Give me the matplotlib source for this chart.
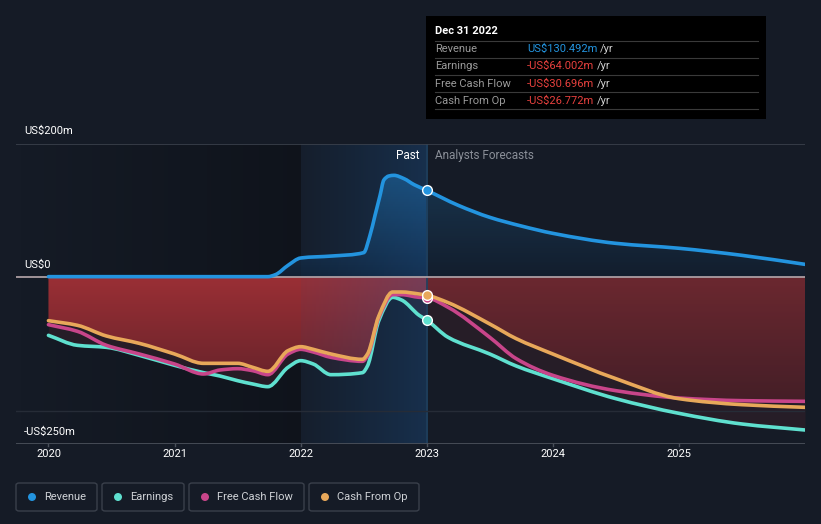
import numpy as np
import matplotlib
matplotlib.use("Agg")
import matplotlib.pyplot as plt
from matplotlib.patches import FancyBboxPatch, Rectangle, PathPatch, Ellipse
from matplotlib.path import Path
from matplotlib.colors import LinearSegmentedColormap

# ---------------- data ----------------
rev_years = [2020.0, 2021.0, 2021.74, 2021.8, 2021.9, 2022.0, 2022.25, 2022.5, 2022.55,
             2022.59, 2022.63, 2022.66, 2022.7, 2022.74, 2022.82, 2022.9, 2023.0,
             2023.25, 2023.5, 2023.75, 2024.0, 2024.5, 2025.0, 2025.5, 2026.0]
revenue = [1, 1, 1, 4, 18, 29, 32, 37, 63, 93, 123, 146, 152, 153, 148, 139, 130.5,
           108, 90, 77, 66, 51, 43.6, 33, 19.5]

neg_years = [2020.0, 2020.23, 2020.46, 2020.72, 2021.0, 2021.23, 2021.36, 2021.5, 2021.62,
             2021.74, 2021.9, 2022.0, 2022.1, 2022.24, 2022.49, 2022.53, 2022.62, 2022.73,
             2022.8, 2022.94, 2023.0, 2023.17, 2023.5, 2023.71, 2024.0, 2024.5, 2025.0,
             2025.5, 2026.0]
earnings = [-87, -102, -105, -117, -132, -143, -148, -155, -160, -164, -135, -125, -130,
            -146, -143, -133, -65, -30, -34, -57, -64, -90, -115, -133, -152, -182, -204,
            -220, -229]
fcf = [-71, -81, -102, -115, -130, -145, -139, -137, -140, -146, -115, -108, -112, -120,
       -126, -118, -60, -26, -26, -30, -30.7, -45, -90, -122, -147, -170, -181, -185, -186]
cfo = [-65, -72, -88, -99, -115, -129, -129, -129, -135, -141, -110, -104, -108, -115,
       -123, -115, -58, -22, -22, -25, -26.8, -38, -70, -92, -115, -152, -182, -191, -195]

tick_years = [2020, 2021, 2022, 2023, 2024, 2025]
now_year = 2023.0
past_start = 2022.0

series_names = ["Revenue", "Earnings", "Free Cash Flow", "Cash From Op"]
series_colors = ["#2394df", "#5fe0cf", "#c8458a", "#e8a85a"]
tip_values = ["US$130.492m", "-US$64.002m", "-US$30.696m", "-US$26.772m"]
tip_colors = ["#2394df", "#e8413e", "#e8413e", "#e8413e"]

BG = "#151b26"
W, H = 821, 524


def mono_slopes(x, y):
    x = np.asarray(x, float); y = np.asarray(y, float)
    h = np.diff(x); d = np.diff(y) / h
    m = np.zeros_like(y)
    m[0] = d[0]; m[-1] = d[-1]
    for i in range(1, len(y) - 1):
        if d[i - 1] * d[i] <= 0:
            m[i] = 0
        else:
            w1 = 2 * h[i] + h[i - 1]; w2 = h[i] + 2 * h[i - 1]
            m[i] = (w1 + w2) / (w1 / d[i - 1] + w2 / d[i])
    return m


def curve_path(x, y):
    """Monotone cubic Bezier path through the data points (smooth rendering)."""
    x = np.asarray(x, float); y = np.asarray(y, float)
    m = mono_slopes(x, y)
    verts = [(x[0], y[0])]; codes = [Path.MOVETO]
    for i in range(len(x) - 1):
        h = x[i + 1] - x[i]
        verts += [(x[i] + h / 3, y[i] + m[i] * h / 3),
                  (x[i + 1] - h / 3, y[i + 1] - m[i + 1] * h / 3),
                  (x[i + 1], y[i + 1])]
        codes += [Path.CURVE4] * 3
    return verts, codes


def dense_curve(x, y, xs):
    """Evaluate the same smooth curve for rendering of filled areas."""
    x = np.asarray(x, float); y = np.asarray(y, float)
    m = mono_slopes(x, y)
    idx = np.clip(np.searchsorted(x, xs) - 1, 0, len(x) - 2)
    h = x[idx + 1] - x[idx]
    t = (xs - x[idx]) / h
    h00 = 2 * t**3 - 3 * t**2 + 1; h10 = t**3 - 2 * t**2 + t
    h01 = -2 * t**3 + 3 * t**2; h11 = t**3 - t**2
    return h00 * y[idx] + h10 * h * m[idx] + h01 * y[idx + 1] + h11 * h * m[idx + 1]


fig = plt.figure(figsize=(W / 100, H / 100), dpi=100, facecolor=BG)
x0, x1 = 16, 805
ytop, ybot = 144, 444
ax = fig.add_axes([x0 / W, 1 - ybot / H, (x1 - x0) / W, (ybot - ytop) / H])
ax.set_facecolor(BG)
xmin = 2020 - (48.5 - x0) / 126.3
xmax = 2026.0
ax.set_xlim(xmin, xmax)
ax.set_ylim(-250, 200)
for s in ax.spines.values():
    s.set_visible(False)
ax.set_xticks([])
ax.set_yticks([])

# left darkening gradient
grad = np.linspace(0, 1, 256).reshape(1, -1)
dark_cmap = LinearSegmentedColormap.from_list("d", [(0, 0, 0, 0.0), (0, 0, 0, 0.28)])
ax.imshow(grad, extent=[xmin, past_start, -250, 200], aspect="auto", cmap=dark_cmap,
          zorder=0.5, interpolation="bicubic")

xs = np.linspace(2020, 2026, 1200)
Es = dense_curve(neg_years, earnings, xs)
Fs = dense_curve(neg_years, fcf, xs)
Cs = dense_curve(neg_years, cfo, xs)
upper = np.maximum(np.maximum(Es, Fs), Cs)
lower = np.minimum(np.minimum(Es, Fs), Cs)

# red gradient fill from 0 to upper envelope
vgrad = np.linspace(1, 0, 256).reshape(-1, 1)
red_cmap = LinearSegmentedColormap.from_list("r", ["#4a1c24", "#9a2f35"])
poly = ax.fill_between(xs, 0, upper, color="none", lw=0)
im = ax.imshow(vgrad, extent=[2020, 2026, -250, 0], aspect="auto", cmap=red_cmap,
               zorder=1, interpolation="bicubic")
im.set_clip_path(poly.get_paths()[0], transform=ax.transData)
ax.fill_between(xs, 0, upper, where=xs >= now_year, color=BG, alpha=0.35, lw=0, zorder=1.1)

# darker band between envelope and lowest line
ax.fill_between(xs, upper, lower, color="#2a1e28", alpha=0.85, lw=0, zorder=1.2)

# revenue fill
Rs = dense_curve(rev_years, revenue, xs)
blue_cmap = LinearSegmentedColormap.from_list("b", ["#122033", "#1b4c72"])
rpoly = ax.fill_between(xs, 0, Rs, color="none", lw=0)
im2 = ax.imshow(np.linspace(1, 0, 256).reshape(-1, 1), extent=[2020, 2026, 0, 160],
                aspect="auto", cmap=blue_cmap, zorder=1, interpolation="bicubic")
im2.set_clip_path(rpoly.get_paths()[0], transform=ax.transData)
ax.fill_between(xs, 0, Rs, where=xs >= now_year, color=BG, alpha=0.45, lw=0, zorder=1.1)

# past highlight region
past_cmap = LinearSegmentedColormap.from_list("p", [(0.1, 0.35, 0.6, 0.06), (0.12, 0.4, 0.7, 0.28)])
ax.imshow(grad, extent=[past_start, now_year, -250, 200], aspect="auto", cmap=past_cmap,
          zorder=2, interpolation="bicubic")
ax.axvline(now_year, color="#1f3f5c", lw=1.2, zorder=2.1)

# grid lines
ax.axhline(200, color="#3b414c", lw=1.2, zorder=2.2)
ax.axhline(-200, color="#262c37", lw=1.0, zorder=2.2)
ax.axhline(0, color="#b8a8ac", lw=1.2, zorder=2.3)
ax.axhline(-250, color="#4a505a", lw=2, zorder=2.2)

# lines (smooth curves through the data points)
for (yrs, vals), col, z in zip([(rev_years, revenue), (neg_years, earnings),
                                (neg_years, fcf), (neg_years, cfo)],
                               series_colors, [4, 4, 4.1, 4.2]):
    v, c = curve_path(yrs, vals)
    ax.add_patch(PathPatch(Path(v, c), facecolor="none", edgecolor=col, lw=2.6,
                           joinstyle="round", capstyle="round", zorder=z))

# markers at now
now_vals = [revenue[rev_years.index(now_year)], earnings[neg_years.index(now_year)],
            fcf[neg_years.index(now_year)], cfo[neg_years.index(now_year)]]
for v, c in zip(now_vals, series_colors):
    ax.plot([now_year], [v], "o", ms=7, mfc=c, mec="white", mew=1.0, zorder=5)

# x ticks
for yr in tick_years:
    ax.plot([yr, yr], [-250, -253], color="#4a505a", lw=1, clip_on=False, zorder=3)
    ax.text(yr, -257, str(yr), color="white", fontsize=8, ha="center", va="top",
            fontfamily="Roboto", zorder=3, clip_on=False)


def ftext(x, y, s, **kw):
    return fig.text(x / W, 1 - y / H, s, **kw)


ftext(24, 131, "US$200m", color="white", fontsize=8, va="center", fontfamily="Roboto")
ftext(24, 265, "US$0", color="white", fontsize=8, va="center", fontfamily="Roboto")
ftext(24, 432, "-US$250m", color="white", fontsize=8, va="center", fontfamily="Roboto")
ftext(419, 156, "Past", color="white", fontsize=8.5, va="center", ha="right", fontfamily="Roboto")
ftext(435, 156, "Analysts Forecasts", color="#8a8f98", fontsize=8.5, va="center", fontfamily="Roboto")

# tooltip
fig.patches.append(Rectangle((426 / W, 1 - 119 / H), 340 / W, 103 / H, transform=fig.transFigure,
                             facecolor="black", edgecolor="none", zorder=10))
ftext(435, 31, "Dec 31 2022", color="white", fontsize=8, va="center", fontweight="bold",
      fontfamily="Roboto", zorder=11)
row_y = [49, 66, 84, 101]
for yy in [41, 58, 75, 92, 109]:
    fig.lines.append(plt.Line2D([435 / W, 758 / W], [1 - yy / H, 1 - yy / H], transform=fig.transFigure,
                                color="#3a3a3a", lw=0.8, zorder=11))
for name, val, col, yy in zip(series_names, tip_values, tip_colors, row_y):
    ftext(435, yy, name, color="#9a9a9a", fontsize=8, va="center", fontfamily="Roboto", zorder=11)
    t = ftext(527, yy, val, color=col, fontsize=8, va="center", fontfamily="Roboto", zorder=11)
    fig.canvas.draw()
    bb = t.get_window_extent()
    fig.text((bb.x1 + 3) / W, 1 - yy / H, "/yr", color="#cfcfcf", fontsize=8, va="center",
             fontfamily="Roboto", zorder=11)

# legend
leg_boxes = [(16, 97), (102, 184), (189, 304), (309, 419)]
for (lx0, lx1), name, col in zip(leg_boxes, series_names, series_colors):
    fig.patches.append(FancyBboxPatch((lx0 / W, 1 - 511 / H), (lx1 - lx0) / W, 28 / H,
                                      boxstyle="round,pad=0,rounding_size=0.004",
                                      transform=fig.transFigure, facecolor="none",
                                      edgecolor="#3a404b", lw=1.0))
    fig.patches.append(Ellipse(((lx0 + 16) / W, 1 - 497 / H), 8 / W, 8 / H,
                               transform=fig.transFigure, facecolor=col, edgecolor="none"))
    ftext(lx0 + 28, 497, name, color="#cfd2d6", fontsize=8, va="center", fontfamily="Roboto")

fig.savefig("out.png", dpi=100, facecolor=BG)
